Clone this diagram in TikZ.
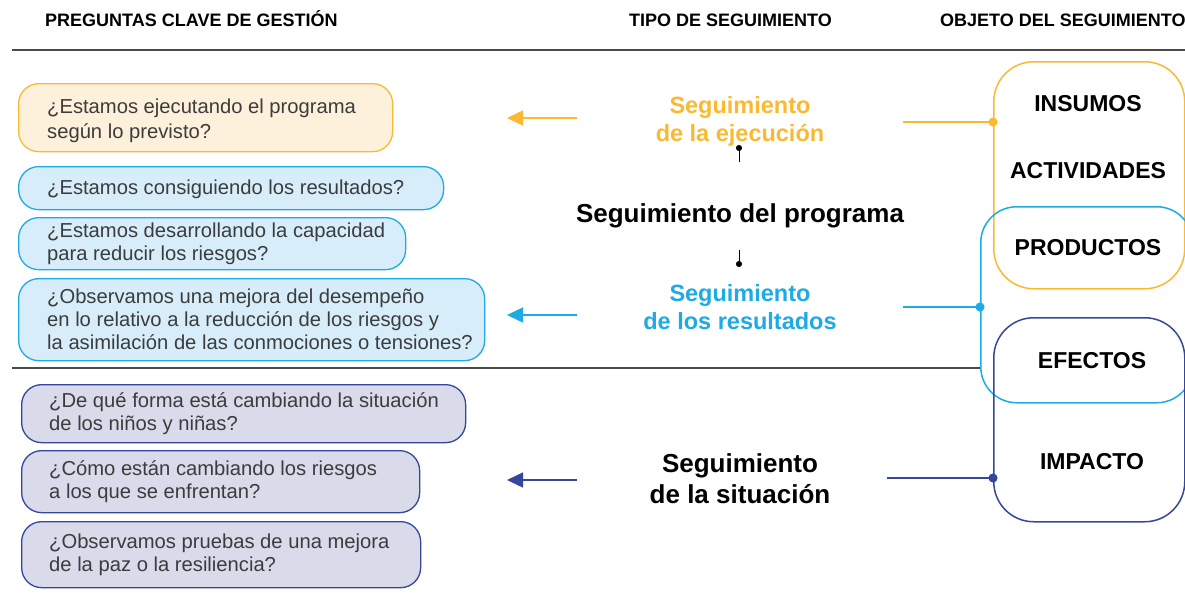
\documentclass[tikz,border=0pt]{standalone}
\usepackage{fontspec}
\setmainfont{Liberation Sans}
\usetikzlibrary{arrows.meta}
\definecolor{cor}{HTML}{FBB931}
\definecolor{corf}{HTML}{FEF1DB}
\definecolor{cbl}{HTML}{1DAAE5}
\definecolor{cblf}{HTML}{D7EEFA}
\definecolor{cnv}{HTML}{34479B}
\definecolor{cnvf}{HTML}{D9DAEA}
\definecolor{qgray}{HTML}{3C3C3C}
\definecolor{rule}{HTML}{4A4A4A}
\begin{document}
\begin{tikzpicture}[x=1pt,y=-1pt,
  head/.style={anchor=base west, inner sep=0, font=\bfseries\fontsize{18}{20}\selectfont},
  qbox/.style={draw, rounded corners=20pt, line width=1.3pt, anchor=north west, inner sep=0},
  orbox/.style={qbox, draw=cor, fill=corf},
  blbox/.style={qbox, draw=cbl, fill=cblf},
  nvbox/.style={qbox, draw=cnv, fill=cnvf},
  qtext/.style={anchor=west, align=left, inner sep=0, text=qgray, font=\fontsize{20.2}{23}\selectfont},
  midtext/.style={align=center, inner sep=0, font=\bfseries\fontsize{23.5}{28}\selectfont},
  objbox/.style={draw, rounded corners=40pt, line width=1.5pt, anchor=north west, inner sep=0},
  objtext/.style={inner sep=0, font=\bfseries\fontsize{23}{24}\selectfont},
  arr/.style={line width=1.4pt, -{Triangle[length=16pt,width=15pt]}},
  link/.style={line width=1.6pt, -{Circle[length=9pt]}},
  tick/.style={line width=0.9pt, black}
]
\clip (0,0) rectangle (1185,600);
% headers
\node[head] (h1) at (45,26) {PREGUNTAS CLAVE DE GESTIÓN};
\node[head] (h2) at (629,26) {TIPO DE SEGUIMIENTO};
\node[head] (h3) at (940,26) {OBJETO DEL SEGUIMIENTO};
\draw[rule, line width=1.3pt] (12,50) -- (1185,50);
\draw[rule, line width=1.3pt] (12,368) -- (981,368);

% question boxes
\node[orbox, minimum width=374pt, minimum height=68pt] (q1) at (18,83) {};
\node[qtext, font=\fontsize{20.2}{25}\selectfont] (t1) at ([xshift=29pt,yshift=-3pt]q1.west) {¿Estamos ejecutando el programa\\según lo previsto?};
\node[blbox, minimum width=425pt, minimum height=43pt] (q2) at (18,166) {};
\node[qtext] (t2) at ([xshift=29pt,yshift=-1pt]q2.west) {¿Estamos consiguiendo los resultados?};
\node[blbox, minimum width=387pt, minimum height=52pt] (q3) at (18,217) {};
\node[qtext] (t3) at ([xshift=29pt]q3.west) {¿Estamos desarrollando la capacidad\\para reducir los riesgos?};
\node[blbox, minimum width=466pt, minimum height=82pt] (q4) at (18,278) {};
\node[qtext] (t4) at ([xshift=29pt]q4.west) {¿Observamos una mejora del desempeño\\en lo relativo a la reducción de los riesgos y\\la asimilación de las conmociones o tensiones?};
\node[nvbox, minimum width=444pt, minimum height=58pt] (q5) at (21,384) {};
\node[qtext] (t5) at ([xshift=28pt]q5.west) {¿De qué forma está cambiando la situación\\de los niños y niñas?};
\node[nvbox, minimum width=398pt, minimum height=62pt] (q6) at (21,450) {};
\node[qtext] (t6) at ([xshift=28pt]q6.west) {¿Cómo están cambiando los riesgos\\a los que se enfrentan?};
\node[nvbox, minimum width=399pt, minimum height=66pt] (q7) at (21,521) {};
\node[qtext] (t7) at ([xshift=28pt]q7.west) {¿Observamos pruebas de una mejora\\de la paz o la resiliencia?};

% middle texts
\node[midtext, text=cor] (ejec) at (740,121) {Seguimiento\\de la ejecución};
\node[midtext, font=\bfseries\fontsize{26}{28}\selectfont] (prog) at (740,216) {Seguimiento del programa};
\node[midtext, text=cbl] (resu) at (740,307) {Seguimiento\\de los resultados};
\node[midtext, font=\bfseries\fontsize{26}{31}\selectfont] (situ) at (740,479) {Seguimiento\\de la situación};

% ticks
\coordinate (tka) at (739,162);
\coordinate (tkb) at (739,145);
\coordinate (tkc) at (739,250);
\coordinate (tkd) at (739,267);
\draw[tick, -{Circle[length=6pt]}] (tka) -- (tkb);
\draw[tick, -{Circle[length=6pt]}] (tkc) -- (tkd);

% left arrows
\coordinate (a1s) at (577,118); \coordinate (a1e) at (507,118);
\coordinate (a2s) at (577,315); \coordinate (a2e) at (507,315);
\coordinate (a3s) at (577,480); \coordinate (a3e) at (507,480);
\draw[arr, cor] (a1s) -- (a1e);
\draw[arr, cbl] (a2s) -- (a2e);
\draw[arr, cnv] (a3s) -- (a3e);

% object boxes
\node[objbox, draw=cor, minimum width=191pt, minimum height=227pt] (ob1) at (993,61) {};
\node[objbox, draw=cbl, minimum width=212pt, minimum height=196pt, rounded corners=36pt] (ob2) at (980,206) {};
\node[objbox, draw=cnv, minimum width=191pt, minimum height=204pt] (ob3) at (993,317) {};
\node[objtext] (ins) at (1088,104) {INSUMOS};
\node[objtext] (act) at (1088,171) {ACTIVIDADES};
\node[objtext] (pro) at (1088,248) {PRODUCTOS};
\node[objtext] (efe) at (1092,361) {EFECTOS};
\node[objtext] (imp) at (1092,462) {IMPACTO};

% links
\coordinate (l1) at (903,122);
\coordinate (l2) at (903,307);
\coordinate (l3) at (887,478);
\draw[link, cor] (l1) -- ([xshift=4.5pt]l1 -| ob1.west);
\draw[link, cbl] (l2) -- ([xshift=4.5pt]l2 -| ob2.west);
\draw[link, cnv] (l3) -- ([xshift=4.5pt]l3 -| ob3.west);
\end{tikzpicture}
\end{document}
